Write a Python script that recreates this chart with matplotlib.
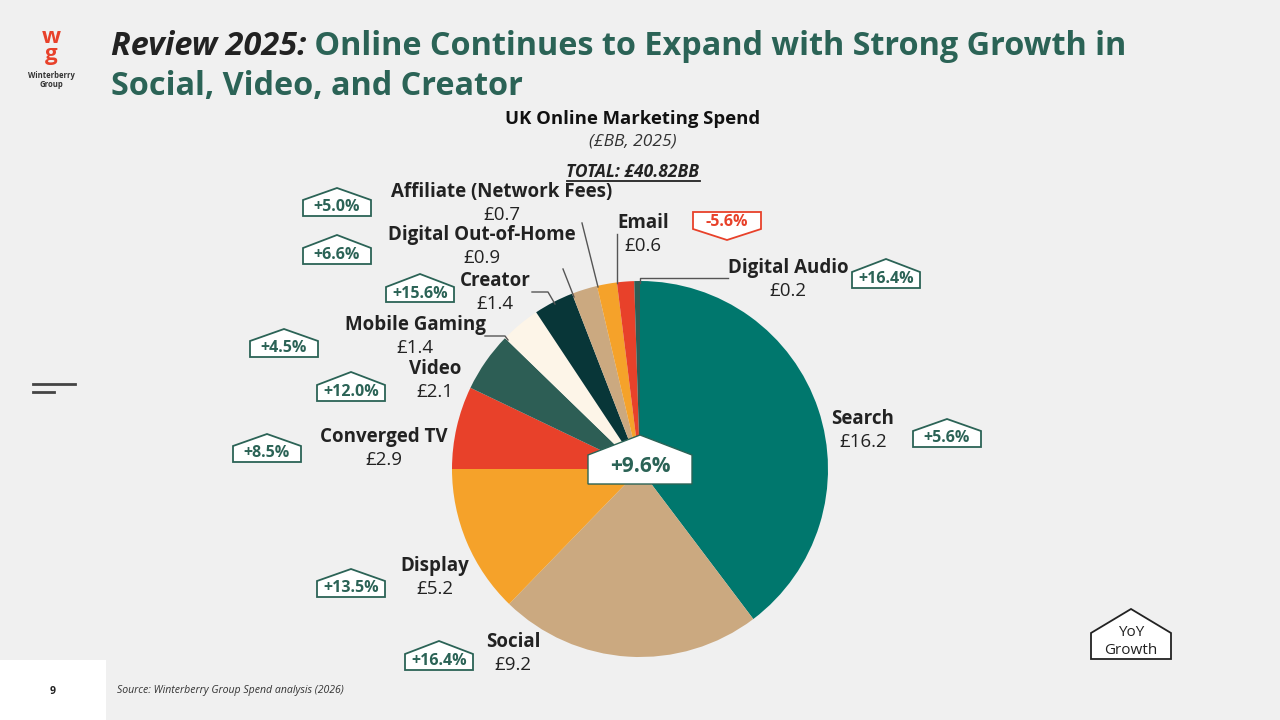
import matplotlib.pyplot as plt
from matplotlib.patches import Polygon, Rectangle
import numpy as np

plt.rcParams['font.family'] = ['Open Sans', 'DejaVu Sans']

# data
segments = ['Search', 'Social', 'Display', 'Converged TV', 'Video', 'Mobile Gaming',
            'Creator', 'Digital Out-of-Home', 'Affiliate (Network Fees)', 'Email', 'Digital Audio']
spend = [16.2, 9.2, 5.2, 2.9, 2.1, 1.4, 1.4, 0.9, 0.7, 0.6, 0.2]
growth = [5.6, 16.4, 13.5, 8.5, 12.0, 4.5, 15.6, 6.6, 5.0, -5.6, 16.4]
total_growth = 9.6
total = 40.82

colors = ['#00776D', '#CBA980', '#F5A22A', '#E8412A', '#2D5E55', '#FDF5E8',
          '#083638', '#CBA980', '#F5A22A', '#E8412A', '#2D5E55']

GREEN = '#2B6356'
RED = '#E8412A'
BG = '#F0F0F0'
W, H = 1280, 720


def Y(y):
    return H - y


fig = plt.figure(figsize=(12.8, 7.2), dpi=100, facecolor=BG)
ax = fig.add_axes([0, 0, 1, 1])
ax.set_facecolor(BG)

wedges, _ = ax.pie(spend, colors=colors, startangle=90, counterclock=False,
                   center=(640, Y(469)), radius=188, wedgeprops=dict(linewidth=0))
ax.set_xlim(0, W)
ax.set_ylim(0, H)
ax.set_aspect('auto')
ax.axis('off')

# title
t1 = ax.text(111, Y(55), 'Review 2025:', fontsize=23.3, fontweight='bold', style='italic',
             color='#222222', va='baseline', ha='left')
ax.annotate(' Online Continues to Expand with Strong Growth in', xy=(1, 0), xycoords=t1,
            fontsize=23.3, fontweight='bold', color=GREEN, va='bottom', ha='left')
ax.text(111, Y(95), 'Social, Video, and Creator', fontsize=23.3, fontweight='bold',
        color=GREEN, va='baseline', ha='left')

# logo
ax.text(51, Y(46), 'w\ng', fontsize=16, fontweight='bold', color=RED, ha='center',
        va='center', linespacing=0.8)
ax.text(51, Y(80), 'Winterberry\nGroup', fontsize=5.5, fontweight='bold', color='#333333',
        ha='center', va='center', linespacing=1.0)

# side menu lines
ax.plot([33, 75], [Y(384), Y(384)], color='#444444', lw=2)
ax.plot([33, 54], [Y(392), Y(392)], color='#444444', lw=2)

# chart heading
ax.text(633, Y(119), 'UK Online Marketing Spend', fontsize=13.3, fontweight='bold',
        color='#111111', ha='center', va='center')
ax.text(633, Y(142), '(£BB, 2025)', fontsize=12.5, style='italic', color='#333333',
        ha='center', va='center')
tt = ax.text(633, Y(172), f'TOTAL: £{total:.2f}BB', fontsize=12.5, fontweight='bold',
             style='italic', color='#222222', ha='center', va='center')
fig.canvas.draw()
bb = tt.get_window_extent(fig.canvas.get_renderer())
ax.plot([bb.x0, bb.x1], [Y(181), Y(181)], color='#222222', lw=1.3)

# segment labels (center x, name y)
label_pos = [(863, 419), (513, 642), (435, 566), (384, 437), (435, 369), (415, 325),
             (495, 281), (482, 235), (502, 192), (643, 223), (788, 268)]
for name, val, (lx, ly) in zip(segments, spend, label_pos):
    ax.text(lx, Y(ly), name, fontsize=13.5, fontweight='bold', color='#222222',
            ha='center', va='center')
    ax.text(lx, Y(ly + 23), f'£{val:.1f}', fontsize=13.5, color='#222222',
            ha='center', va='center')

# leader lines
leaders = {
    'Mobile Gaming': [(485, 336), (505, 336), (508, 340)],
    'Creator': [(532, 292), (548, 292), (555, 304)],
    'Digital Out-of-Home': [(563, 269), (574, 297)],
    'Affiliate (Network Fees)': [(582, 223), (598, 287)],
    'Email': [(617, 234), (617, 283)],
    'Digital Audio': [(728, 278), (640, 278), (640, 283)],
}
for pts in leaders.values():
    xs = [p[0] for p in pts]
    ys = [Y(p[1]) for p in pts]
    ax.plot(xs, ys, color='#555555', lw=1)


def badge(cx, peak, top, bottom, half, edge, neg=False, lw=1.3):
    if not neg:
        pts = [(cx - half, Y(bottom)), (cx - half, Y(top)), (cx, Y(peak)),
               (cx + half, Y(top)), (cx + half, Y(bottom))]
    else:
        pts = [(cx - half, Y(peak)), (cx - half, Y(top)), (cx, Y(bottom)),
               (cx + half, Y(top)), (cx + half, Y(peak))]
    ax.add_patch(Polygon(pts, closed=True, facecolor='white', edgecolor=edge,
                         lw=lw, zorder=5))


# growth badges: (center x, peak y, rect top y, bottom y, half width)
badge_pos = [(947, 419, 431, 447, 34), (439, 641, 654, 670, 34), (351, 569, 581, 597, 34),
             (267, 434, 446, 462, 34), (351, 372, 385, 401, 34), (284, 329, 341, 357, 34),
             (420, 274, 287, 302, 34), (337, 235, 248, 264, 34), (337, 188, 200, 216, 34),
             (727, 212, 229, 240, 34), (886, 259, 272, 288, 34)]
for g, (bx, pk, tp, bt, hw) in zip(growth, badge_pos):
    neg = g < 0
    col = RED if neg else GREEN
    badge(bx, pk, tp, bt, hw, col, neg=neg)
    ty = (pk + tp) / 2 + 1 if neg else (tp + bt) / 2 - 1
    ax.text(bx, Y(ty), f'{g:+.1f}%', fontsize=11.5, fontweight='bold', color=col,
            ha='center', va='center', zorder=6)

# total growth badge in the middle
badge(640, 435, 455, 484, 52, GREEN, lw=1)
ax.text(640, Y(466), f'{total_growth:+.1f}%', fontsize=15, fontweight='bold', color=GREEN,
        ha='center', va='center', zorder=6)

# legend key
badge(1131, 609, 633, 659, 40, '#222222', lw=1.3)
ax.text(1131, Y(632), 'YoY', fontsize=11, color='#222222', ha='center', va='center', zorder=6)
ax.text(1131, Y(650), 'Growth', fontsize=11, color='#222222', ha='center', va='center', zorder=6)

# footer
ax.add_patch(Rectangle((0, 0), 106, 60, facecolor='white', edgecolor='none', zorder=1))
ax.text(53, Y(691), '9', fontsize=7.5, fontweight='bold', color='#222222', ha='center', va='center')
ax.text(117, Y(691), 'Source: Winterberry Group Spend analysis (2026)', fontsize=7.6,
        style='italic', color='#333333', ha='left', va='center')

fig.savefig('out.png', dpi=100, facecolor=BG)
